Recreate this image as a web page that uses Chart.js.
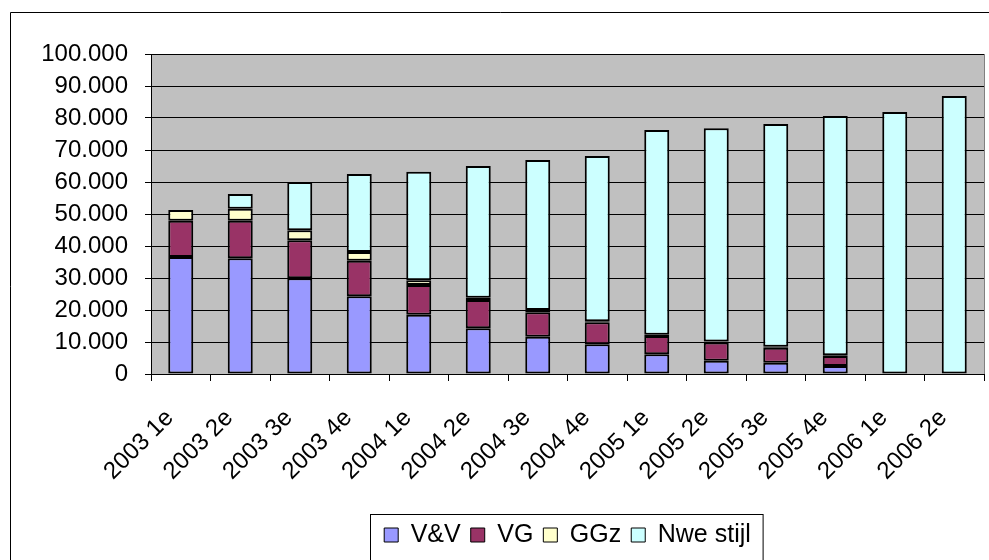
<!DOCTYPE html>
<html>
<head>
<meta charset="utf-8">
<script src="https://cdn.jsdelivr.net/npm/chart.js@4/dist/chart.umd.min.js"></script>
<style>
  html, body { margin: 0; padding: 0; background: #fff; }
  #wrap { position: relative; width: 989px; height: 560px; }
</style>
</head>
<body>
<div id="wrap"><canvas id="chart" width="989" height="560"></canvas></div>
<script>
const periods = ['2003 1e', '2003 2e', '2003 3e', '2003 4e', '2004 1e', '2004 2e', '2004 3e',
                 '2004 4e', '2005 1e', '2005 2e', '2005 3e', '2005 4e', '2006 1e', '2006 2e'];
const vv     = [36600, 36150, 29900, 24300, 18500, 14270, 11670, 9270, 6150, 4170, 3540, 2500, 0, 0];
const vg     = [11300, 11750, 11900, 11100, 9300, 8850, 7600, 6880, 5700, 5700, 4690, 3125, 0, 0];
const ggz    = [3350, 3750, 3100, 2700, 1500, 700, 700, 300, 400, 300, 300, 200, 0, 0];
const nwe    = [0, 4600, 15100, 24400, 33900, 41180, 46900, 51675, 64000, 66600, 69600, 74800, 81900, 86900];
const yTicks = [0, 10000, 20000, 30000, 40000, 50000, 60000, 70000, 80000, 90000, 100000];

const fmt = v => String(v).replace(/\B(?=(\d{3})+(?!\d))/g, '.');

// frame, plot background and legend box
const frame = {
  id: 'frame',
  beforeDraw(chart) {
    const { ctx, chartArea: a } = chart;
    ctx.save();
    ctx.fillStyle = '#c0c0c0';
    ctx.fillRect(a.left, a.top, a.right - a.left, a.bottom - a.top);
    ctx.strokeStyle = '#808080';
    ctx.lineWidth = 1;
    ctx.strokeRect(a.left + 0.5, a.top + 0.5, a.right - a.left, a.bottom - a.top);
    ctx.strokeStyle = '#000';
    ctx.beginPath();
    ctx.moveTo(10.5, 580);
    ctx.lineTo(10.5, 12.5);
    ctx.lineTo(1000, 12.5);
    ctx.stroke();
    ctx.restore();
  },
  afterDraw(chart) {
    const lg = chart.legend;
    if (!lg || !lg.legendHitBoxes.length) return;
    const hb = lg.legendHitBoxes;
    const l = Math.min(...hb.map(h => h.left)) - 14;
    const r = Math.max(...hb.map(h => h.left + h.width)) + 12;
    const ctx = chart.ctx;
    ctx.save();
    ctx.strokeStyle = '#000';
    ctx.lineWidth = 1;
    ctx.strokeRect(Math.round(l) + 0.5, Math.round(lg.top) + 1.5, r - l, 80);
    ctx.restore();
  }
};

const bar = (label, data, color) => ({
  label, data,
  backgroundColor: color,
  borderColor: '#000',
  borderWidth: 2,
  borderSkipped: false,
  categoryPercentage: 1,
  barPercentage: 0.42
});

new Chart(document.getElementById('chart'), {
  type: 'bar',
  data: {
    labels: periods,
    datasets: [
      bar('V&V', vv, '#9999ff'),
      bar('VG', vg, '#993366'),
      bar('GGz', ggz, '#ffffcc'),
      bar('Nwe stijl', nwe, '#ccffff')
    ]
  },
  options: {
    responsive: false,
    animation: false,
    layout: { padding: { left: 0, right: 5, top: 54, bottom: 2.5 } },
    plugins: {
      tooltip: { enabled: false },
      legend: {
        position: 'bottom',
        fullSize: false,
        labels: {
          color: '#000',
          font: { family: 'Liberation Sans, Arial, sans-serif', size: 25 },
          boxWidth: 14,
          boxHeight: 14,
          padding: 10,
          generateLabels(chart) {
            return chart.data.datasets.map((ds, i) => ({
              text: ds.label,
              fillStyle: ds.backgroundColor,
              strokeStyle: '#000',
              lineWidth: 1,
              datasetIndex: i,
              fontColor: '#000'
            }));
          }
        }
      }
    },
    scales: {
      x: {
        stacked: true,
        grid: { display: true, drawOnChartArea: false, offset: true, color: '#000', tickLength: 7 },
        border: { color: '#000', width: 1 },
        ticks: {
          color: '#000',
          font: { family: 'Liberation Sans, Arial, sans-serif', size: 24 },
          minRotation: 45,
          maxRotation: 45,
          padding: 23,
          labelOffset: -11,
          autoSkip: false
        },
        afterFit(s) {
          s.height = 138.5;
          s.paddingLeft = 0;
          s.paddingRight = 0;
        }
      },
      y: {
        stacked: true,
        min: 0,
        max: 100000,
        afterBuildTicks(s) { s.ticks = yTicks.map(v => ({ value: v })); },
        grid: { color: '#000', tickLength: 6, lineWidth: 1 },
        border: { color: '#000', width: 1 },
        ticks: {
          color: '#000',
          font: { family: 'Liberation Sans, Arial, sans-serif', size: 24 },
          padding: 17,
          callback: v => fmt(v)
        },
        afterFit(s) { s.width = 151; }
      }
    }
  },
  plugins: [frame]
});
</script>
</body>
</html>
